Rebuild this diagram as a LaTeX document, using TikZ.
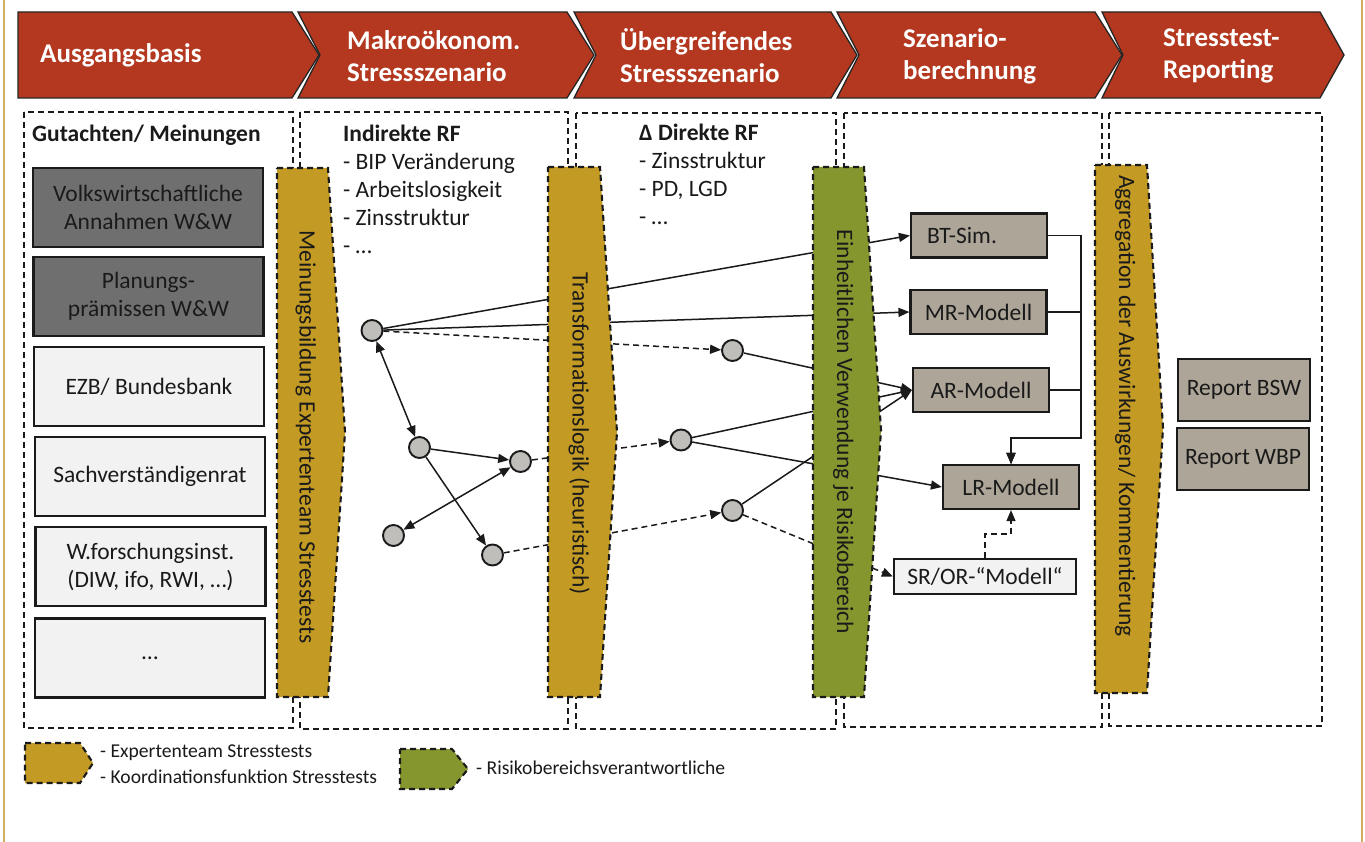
\documentclass[tikz,border=0pt]{standalone}
\usepackage{fontspec}
\setmainfont{Carlito}
\usetikzlibrary{arrows.meta}
\definecolor{hdrred}{HTML}{B3381F}
\definecolor{gold}{HTML}{C39A23}
\definecolor{olive}{HTML}{85962E}
\definecolor{darkbox}{HTML}{6F6F6F}
\definecolor{lightbox}{HTML}{F2F2F2}
\definecolor{taupe}{HTML}{ACA598}
\definecolor{dotgray}{HTML}{BFBEBA}
\definecolor{framegold}{HTML}{D2AE5E}
\definecolor{ink}{HTML}{1A1A1A}
\newcommand\fsHdr{\fontsize{27}{32}\selectfont\bfseries}
\newcommand\fsBody{\fontsize{23.5}{28}\selectfont}
\newcommand\fsLeg{\fontsize{19.6}{24}\selectfont}
\tikzset{
  colbox/.style={draw=ink, dash pattern=on 6pt off 4pt, line width=1.8pt},
  pent/.style={draw=ink, dash pattern=on 6pt off 4pt, line width=2.1pt},
  hdrshape/.style={fill=hdrred, draw=black!85, line width=1.3pt},
  hdrtext/.style={text=white, font=\fsHdr, align=left, anchor=west, inner sep=0pt},
  srcbox/.style={draw=ink, line width=2.2pt, minimum width=230pt, minimum height=79pt, align=center, font=\fsBody, text=ink, inner sep=0pt},
  srcdark/.style={srcbox, fill=darkbox},
  srclight/.style={srcbox, fill=lightbox},
  model/.style={draw=ink, line width=2.2pt, fill=taupe, font=\fsBody, text=ink, minimum width=136pt, minimum height=44pt, inner sep=0pt},
  rfdot/.style={circle, draw=ink, fill=dotgray, line width=1.9pt, minimum size=21pt, inner sep=0pt},
  conn/.style={draw=ink, line width=1.5pt},
  dconn/.style={conn, dash pattern=on 6pt off 4pt},
  vtext/.style={rotate=-90, anchor=base, font=\fsBody, text=ink, inner sep=0pt},
  lbl/.style={anchor=base west, inner sep=0pt, font=\fsBody, text=ink},
  legtext/.style={anchor=west, inner sep=0pt, font=\fsLeg, text=ink},
}
\begin{document}
\begin{tikzpicture}[x=1pt,y=-1pt, >={Triangle[length=11pt,width=9pt]}]
\useasboundingbox (0,0) rectangle (1365,842);
\fill[white] (0,0) rectangle (1365,842);
% frame
\draw[framegold, line width=2.5pt] (4,0) -- (4,842);
\draw[framegold, line width=2.5pt] (1362,0) -- (1362,842);

% header chevrons
\draw[hdrshape] (18,12) -- (292,12) -- (319,55) -- (292,98) -- (18,98) -- cycle;
\draw[hdrshape] (298,12) -- (567,12) -- (594,55) -- (567,98) -- (298,98) -- (320,55) -- cycle;
\draw[hdrshape] (574,12) -- (831,12) -- (857,55) -- (831,98) -- (574,98) -- (596,55) -- cycle;
\draw[hdrshape] (837,12) -- (1095,12) -- (1122,55) -- (1095,98) -- (837,98) -- (859,55) -- cycle;
\draw[hdrshape] (1102,12) -- (1320,12) -- (1344,55) -- (1320,98) -- (1102,98) -- (1123,55) -- cycle;
\node[hdrtext] (h1) at (40,55) {Ausgangsbasis};
\node[hdrtext] (h2) at (347,56) {Makroökonom.\\Stressszenario};
\node[hdrtext] (h3) at (620,56) {Übergreifendes\\Stressszenario};
\node[hdrtext] (h4) at (903,56) {Szenario-\\berechnung};
\node[hdrtext] (h5) at (1163,56) {Stresstest-\\Reporting};

% column boxes
\draw[colbox] (24,112) rectangle (293,728);
\draw[colbox] (300,112) rectangle (568,729);
\draw[colbox] (576,113) rectangle (836,729);
\draw[colbox] (844,113) rectangle (1102,727);
\draw[colbox] (1109,113) rectangle (1322,726);

% column texts
\node[lbl, font=\fsBody\bfseries] (t1) at (32,141.5) {Gutachten/ Meinungen};
\node[lbl, font=\fsBody\bfseries] (t2) at (343,141.5) {Indirekte RF};
\node[lbl] (t2a) at (343,169.3) {- BIP Veränderung};
\node[lbl] (t2b) at (343,197.3) {- Arbeitslosigkeit};
\node[lbl] (t2c) at (343,225.2) {- Zinsstruktur};
\node[lbl] (t2d) at (343,253.5) {- …};
\node[lbl, font=\fsBody\bfseries] (t3) at (639,141) {Δ Direkte RF};
\node[lbl] (t3a) at (639,169) {- Zinsstruktur};
\node[lbl] (t3b) at (639,197) {- PD, LGD};
\node[lbl] (t3c) at (639,225) {- …};

% source boxes
\node[srcdark] (sa) at (148,207.5) {Volkswirtschaftliche\\Annahmen W\&W};
\node[srcdark] (sb) at (148.5,296.5) {Planungs-\\prämissen W\&W};
\node[srclight] (sc) at (149,386.5) {EZB/ Bundesbank};
\node[srclight] (sd) at (150,476.5) {Sachverständigenrat};
\node[srclight] (se) at (150.5,566.5) {W.forschungsinst.\\(DIW, ifo, RWI, …)};
\node[srclight] (sf) at (150,658) {…};

% risk factor dots
\node[rfdot] (c1) at (372,330.5) {};
\node[rfdot] (c2) at (419.5,447.5) {};
\node[rfdot] (c3) at (520.5,461.5) {};
\node[rfdot] (c4) at (393.5,535.5) {};
\node[rfdot] (c5) at (492.5,555) {};
\node[rfdot] (c6) at (732.5,350.5) {};
\node[rfdot] (c7) at (681,440) {};
\node[rfdot] (c8) at (732.5,510.5) {};

% model boxes
\node[model] (bt) at (979,235.5) {\makebox[104pt][l]{BT-Sim.}};
\node[model] (mr) at (978.5,312) {MR-Modell};
\node[model] (ar) at (981,390) {AR-Modell};
\node[model] (lr) at (1011,487) {LR-Modell};
\node[model, fill=lightbox, minimum width=182pt, minimum height=35pt] (sr) at (985,576.5) {SR/OR-“Modell“};
\node[model, minimum width=132pt, minimum height=62pt] (rb) at (1244,390) {Report BSW};
\node[model, minimum width=132pt, minimum height=62pt] (rw) at (1243,459) {Report WBP};

% connectors
\draw[conn, <->] (c1) -- (c2);
\draw[conn, ->] (c2) -- (c3);
\draw[conn, ->] (c2) -- (c5);
\draw[conn, <->] (c3) -- (c4);
\draw[dconn, ->] (c1) -- (c6);
\draw[dconn, ->] (c3) -- (c7);
\draw[dconn, ->] (c5) -- (c8);
\draw[conn, ->] (c1) -- (bt.west);
\draw[conn, ->] (c1) -- (mr.west);
\draw[conn, ->] (c6) -- (ar.west);
\draw[conn, ->] (c7) -- (ar.west);
\draw[conn, ->] (c8) -- (ar.west);
\draw[conn, ->] (c7) -- (lr.west);
\draw[dconn, ->] (c8) -- (sr.west);
\coordinate (bus) at (1081,438);
\draw[conn, line width=1.2pt, ->] (bt.east) -| (bus) -| (lr.north);
\draw[conn, line width=1.2pt, ->] (mr.east) -| (bus) -| (lr.north);
\draw[conn, line width=1.2pt, ->] (ar.east) -| (bus) -| (lr.north);
\coordinate (srbend) at (1011,534);
\draw[dconn, line width=1.3pt, ->] (sr.north) |- (srbend) -- (lr.south);

% process pentagons
\draw[pent, fill=gold] (277,168) -- (328,168) -- (345,432) -- (328,697) -- (277,697) -- cycle;
\node[vtext] (p1) at (299.5,437) {Meinungsbildung Expertenteam Stresstests};
\draw[pent, fill=gold] (548,167) -- (600,167) -- (617,432) -- (600,697) -- (548,697) -- cycle;
\node[vtext] (p2) at (572.5,434) {Transformationslogik (heuristisch)};
\draw[pent, fill=olive] (813,167) -- (864,167) -- (881,430) -- (864,697) -- (813,697) -- cycle;
\node[vtext] (p3) at (837,432) {Einheitlichen Verwendung je Risikobereich};
\draw[pent, fill=gold] (1095,165) -- (1147,165) -- (1163,428) -- (1147,693) -- (1095,693) -- cycle;
\node[vtext] (p4) at (1119,406) {Aggregation der Auswirkungen/ Kommentierung};

% legend
\draw[pent, fill=gold] (25,743) -- (80,743) -- (93,763) -- (80,783) -- (25,783) -- cycle;
\node[legtext] (l1) at (100,753) {- Expertenteam Stresstests};
\node[legtext] (l2) at (100,777) {- Koordinationsfunktion Stresstests};
\draw[pent, fill=olive] (400,749) -- (452,749) -- (468,769) -- (452,789) -- (400,789) -- cycle;
\node[legtext] (l3) at (476,768) {- Risikobereichsverantwortliche};
\end{tikzpicture}
\end{document}
